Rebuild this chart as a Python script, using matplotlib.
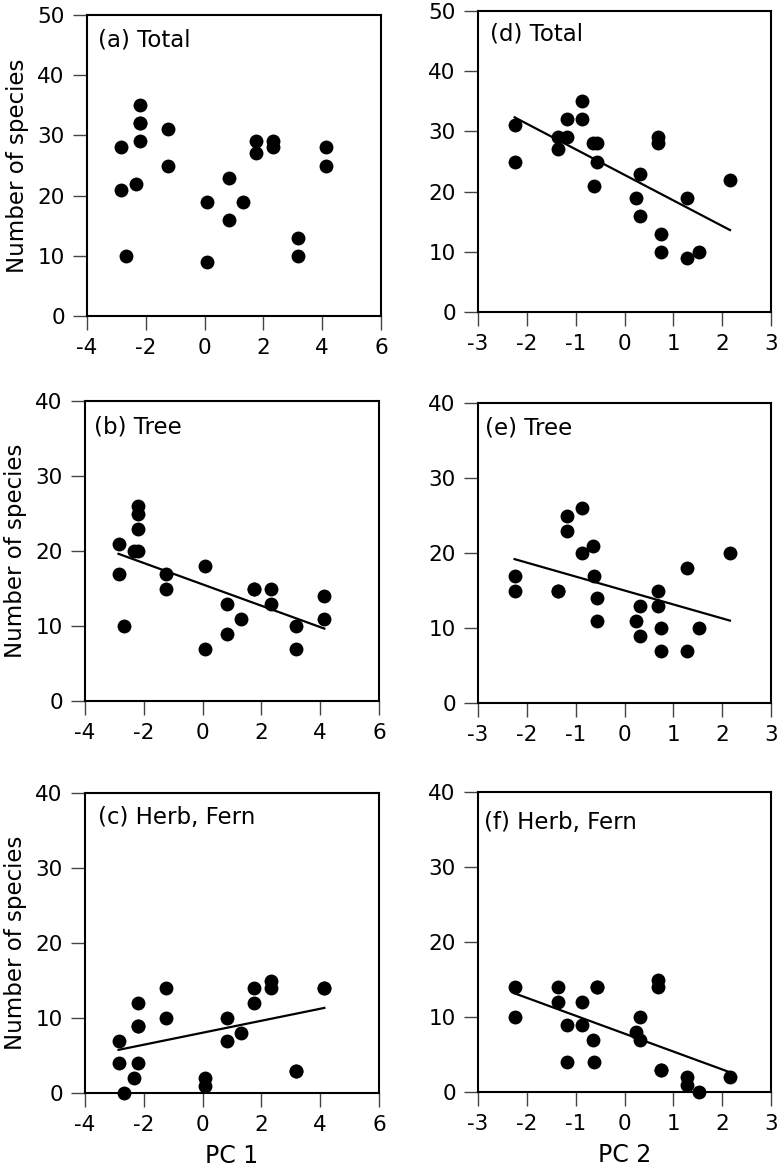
import numpy as np
import matplotlib
matplotlib.use("Agg")
import matplotlib.pyplot as plt

plt.rcParams['font.family'] = ['DejaVu Sans']

# site scores and species counts (23 sites)
pc1 = [-2.86, -2.86, -2.68, -2.20, -2.20, -2.20, -2.32, -1.24, -1.24, 0.07, 0.07, 0.83,
       0.83, 1.32, 1.75, 1.75, 2.34, 2.34, 3.19, 3.19, 4.14, 4.14, -2.20]
pc2 = [-0.64, -0.63, 1.52, -0.88, -1.18, -0.88, 2.16, -2.25, -2.25, 1.28, 1.28, 0.31,
       0.31, 0.24, -1.37, -1.37, 0.69, 0.69, 0.75, 0.75, -0.56, -0.56, -1.18]
total = [28, 21, 10, 35, 32, 32, 22, 31, 25, 19, 9, 23, 16, 19, 29, 27, 29, 28, 13, 10, 28, 25, 29]
tree = [21, 17, 10, 26, 23, 20, 20, 17, 15, 18, 7, 13, 9, 11, 15, 15, 15, 13, 10, 7, 14, 11, 25]
herb = [7, 4, 0, 9, 9, 12, 2, 14, 10, 1, 2, 10, 7, 8, 14, 12, 14, 15, 3, 3, 14, 14, 4]

panel_labels = ['(a) Total', '(b) Tree', '(c) Herb, Fern', '(d) Total', '(e) Tree', '(f) Herb, Fern']
ylabel = 'Number of species'
xlabels = ['PC 1', 'PC 2']

W, H = 780, 1171
fig = plt.figure(figsize=(W / 100, H / 100), dpi=100)

def px_axes(left, top, right, bottom):
    return fig.add_axes([left / W, 1 - bottom / H, (right - left) / W, (bottom - top) / H])

# pixel boxes of each panel (left, top, right, bottom)
boxes = [(87, 15, 381, 316), (85, 401, 379, 701), (85, 793, 379, 1093),
         (478, 11, 771, 312), (478, 403, 771, 703), (478, 792, 771, 1092)]
label_xy = [(0.037, 0.917), (0.031, 0.912), (0.044, 0.917),
            (0.041, 0.923), (0.025, 0.918), (0.02, 0.9)]
ys = [total, tree, herb, total, tree, herb]
fits = [False, True, True, True, True, True]

for i in range(6):
    ax = px_axes(*boxes[i])
    col = i // 3
    x = np.array(pc1 if col == 0 else pc2)
    y = np.array(ys[i])
    ax.plot(x, y, 'o', color='black', markersize=10, markeredgewidth=0, clip_on=False, zorder=3)
    if fits[i]:
        b, a = np.polyfit(x, y, 1)
        xs = np.array([x.min(), x.max()])
        ax.plot(xs, a + b * xs, color='black', lw=1.6)
    if col == 0:
        ax.set_xlim(-4, 6)
        ax.set_xticks(np.arange(-4, 7, 2))
    else:
        ax.set_xlim(-3, 3)
        ax.set_xticks(np.arange(-3, 4, 1))
    ymax = 50 if i in (0, 3) else 40
    ax.set_ylim(0, ymax)
    ax.set_yticks(np.arange(0, ymax + 1, 10))
    ax.set_xticklabels([str(int(v)) for v in ax.get_xticks()])
    for s in ax.spines.values():
        s.set_linewidth(1.5)
    ax.tick_params(direction='out', length=10, width=1, pad=6, labelsize=15.5, color='#444444')
    ax.text(label_xy[i][0], label_xy[i][1], panel_labels[i], transform=ax.transAxes,
            ha='left', va='center', fontsize=16.5)
    if col == 0:
        ax.set_ylabel(ylabel, fontsize=16.5)
        ax.yaxis.set_label_coords(-0.198, 0.5)
    if i in (2, 5):
        ax.set_xlabel(xlabels[col], fontsize=17)
        ax.xaxis.set_label_coords(0.5, -0.17)

fig.savefig('out.png', dpi=100)
